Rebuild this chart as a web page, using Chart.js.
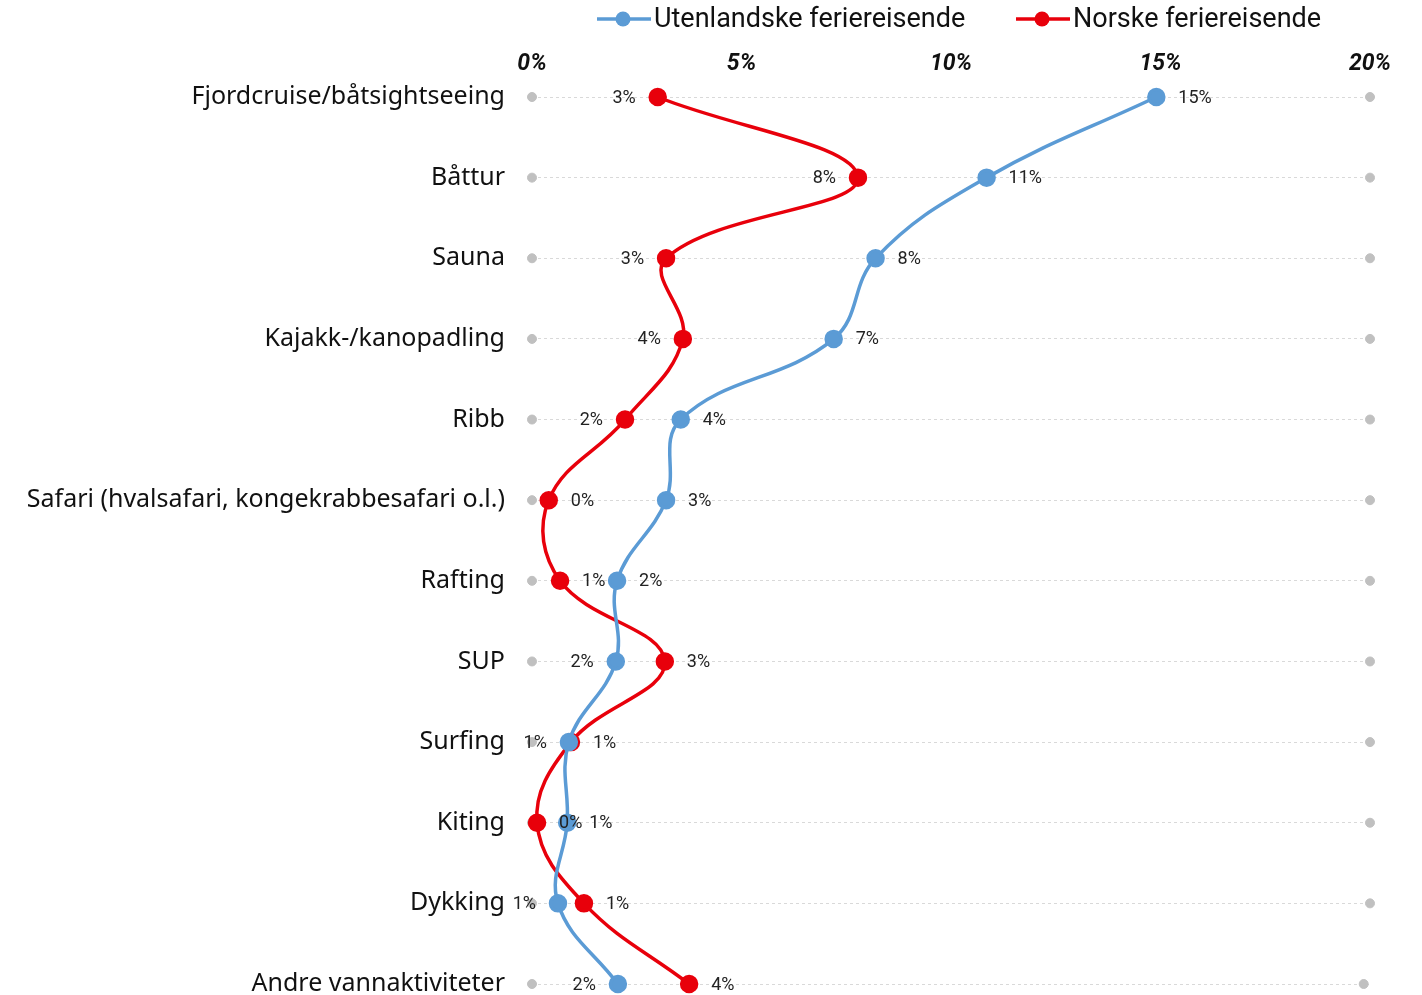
<!DOCTYPE html>
<html>
<head>
<meta charset="utf-8">
<script src="https://cdn.jsdelivr.net/npm/chart.js@4.4.1/dist/chart.umd.min.js"></script>
<style>
  html, body { margin: 0; padding: 0; background: #fff; }
  #wrap { width: 1422px; height: 995px; position: relative; }
</style>
</head>
<body>
<div id="wrap"><canvas id="myChart"></canvas></div>
<script>
// activities, top to bottom
const activities = [
    "Fjordcruise/båtsightseeing",
    "Båttur",
    "Sauna",
    "Kajakk-/kanopadling",
    "Ribb",
    "Safari (hvalsafari, kongekrabbesafari o.l.)",
    "Rafting",
    "SUP",
    "Surfing",
    "Kiting",
    "Dykking",
    "Andre vannaktiviteter"
];
const foreignName = "Utenlandske feriereisende";
const norwegianName = "Norske feriereisende";
// share in percent
const foreignValues = [14.9, 10.85, 8.2, 7.2, 3.55, 3.2, 2.03, 2.0, 0.88, 0.84, 0.62, 2.05];
const norwegianValues = [3.0, 7.78, 3.2, 3.6, 2.22, 0.4, 0.67, 3.17, 0.93, 0.12, 1.24, 3.75];
// grey end markers at both ends of each row
const leftEnds = [0, 0, 0, 0, 0, 0, 0, 0, 0, 0, 0, 0];
const rightEnds = [20, 20, 20, 20, 20, 20, 20, 20, 20, 20, 20, 19.85];
const xTicks = [0, 5, 10, 15, 20];

// which side each value label sits on
const foreignLabelSide = ["r", "r", "r", "r", "r", "r", "r", "l", "l", "r", "l", "l"];
const norwegianLabelSide = ["l", "l", "l", "l", "l", "r", "r", "r", "r", "r", "r", "r"];

const BLUE = "#5b9bd5";
const RED = "#e8000b";
const GREY = "#c0c0c0";
const narrow = "'Liberation Sans Narrow', 'Roboto', sans-serif";

const valueLabels = {
    id: "valueLabels",
    afterDatasetsDraw(chart) {
        const ctx = chart.ctx;
        ctx.save();
        ctx.font = "18px " + narrow;
        ctx.fillStyle = "#222";
        ctx.textBaseline = "middle";
        [[0, foreignLabelSide], [1, norwegianLabelSide]].forEach(([di, sides]) => {
            const meta = chart.getDatasetMeta(di);
            const vals = chart.data.datasets[di].data;
            meta.data.forEach((pt, i) => {
                const txt = Math.round(vals[i]) + "%";
                if (sides[i] === "r") {
                    ctx.textAlign = "left";
                    ctx.fillText(txt, pt.x + 22, pt.y + 1);
                } else {
                    ctx.textAlign = "right";
                    ctx.fillText(txt, pt.x - 22, pt.y + 1);
                }
            });
        });
        ctx.restore();
    }
};

const topLegend = {
    id: "topLegend",
    afterDraw(chart) {
        const ctx = chart.ctx;
        const y = 19;
        ctx.save();
        ctx.font = "27px " + narrow;
        ctx.textBaseline = "middle";
        ctx.textAlign = "left";
        const items = [[597, BLUE, foreignName], [1016, RED, norwegianName]];
        items.forEach(([x, col, name]) => {
            ctx.strokeStyle = col;
            ctx.lineWidth = 3.5;
            ctx.beginPath();
            ctx.moveTo(x, y);
            ctx.lineTo(x + 54, y);
            ctx.stroke();
            ctx.fillStyle = col;
            ctx.beginPath();
            ctx.arc(x + 26, y, 7.5, 0, Math.PI * 2);
            ctx.fill();
            ctx.fillStyle = "#111";
            ctx.fillText(name, x + 57, y + 1);
        });
        ctx.restore();
    }
};

const graph = document.getElementById("myChart").getContext("2d");
let myChart = new Chart(graph, {
    type: "line",
    data: {
        labels: activities,
        datasets: [
            {
                label: foreignName,
                data: foreignValues,
                borderColor: BLUE,
                backgroundColor: BLUE,
                borderWidth: 3.5,
                pointRadius: 7.5,
                pointHoverRadius: 7.5,
                tension: 0.4,
                clip: false
            },
            {
                label: norwegianName,
                data: norwegianValues,
                borderColor: RED,
                backgroundColor: RED,
                borderWidth: 3.5,
                pointRadius: 7.5,
                pointHoverRadius: 7.5,
                tension: 0.4,
                clip: false
            },
            {
                label: "left",
                data: leftEnds,
                showLine: false,
                backgroundColor: GREY,
                borderColor: GREY,
                pointRadius: 4.5,
                clip: false,
                order: 5
            },
            {
                label: "right",
                data: rightEnds,
                showLine: false,
                backgroundColor: GREY,
                borderColor: GREY,
                pointRadius: 4.5,
                clip: false,
                order: 5
            }
        ]
    },
    options: {
        indexAxis: "y",
        responsive: true,
        maintainAspectRatio: false,
        animation: false,
        layout: { padding: { top: 0, right: 52, bottom: 8, left: 0 } },
        plugins: {
            legend: { display: false },
            tooltip: { enabled: false }
        },
        scales: {
            x: {
                type: "linear",
                position: "top",
                min: 0,
                max: 20,
                afterBuildTicks: (scale) => { scale.ticks = xTicks.map(v => ({ value: v })); },
                afterFit: (scale) => { scale.height = 97; scale.paddingLeft = 0; scale.paddingRight = 0; },
                grid: { display: false, drawTicks: false },
                border: { display: false },
                ticks: {
                    callback: (v) => v + "%",
                    color: "#111",
                    padding: 19,
                    maxRotation: 0,
                    font: { family: narrow, size: 23, style: "italic", weight: "bold" }
                }
            },
            y: {
                type: "category",
                offset: false,
                afterFit: (scale) => { scale.width = 532; scale.paddingTop = 0; scale.paddingBottom = 0; },
                grid: {
                    color: "#d9d9d9",
                    lineWidth: 1,
                    drawTicks: false
                },
                border: { display: false, dash: [3, 3] },
                ticks: {
                    color: "#111",
                    padding: 27,
                    font: { family: "'Noto Sans', sans-serif", size: 25 }
                }
            }
        }
    },
    plugins: [valueLabels, topLegend]
});
</script>
</body>
</html>
